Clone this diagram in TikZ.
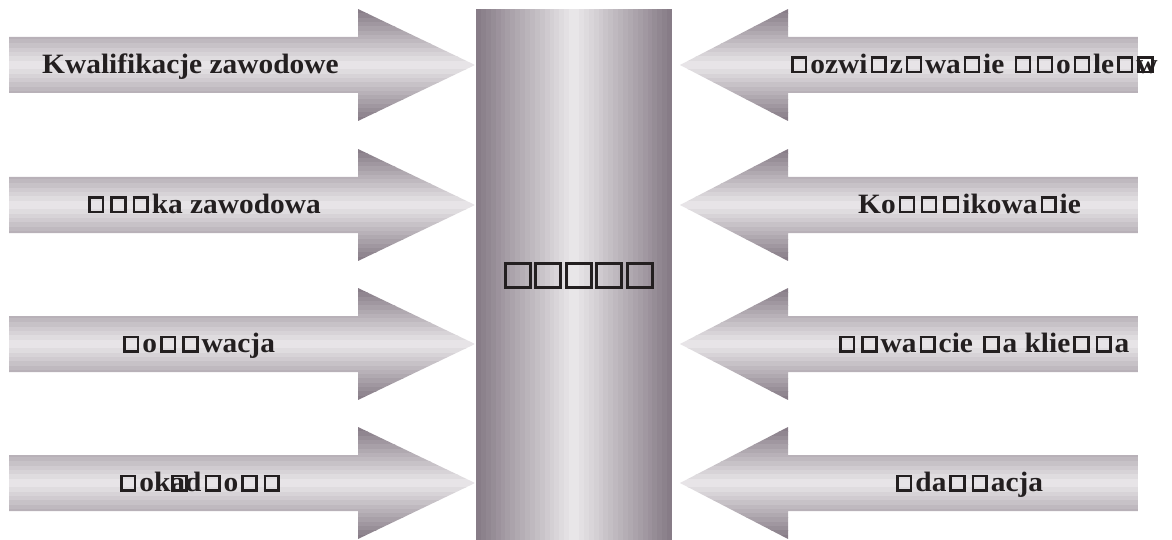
\documentclass[tikz,border=0pt]{standalone}
\usepackage{fontspec}
\setmainfont{Liberation Serif}
\newfontfamily\lblfont[FakeStretch=1.05]{Liberation Serif}
\definecolor{bardark}{HTML}{857A85}
\definecolor{barlight}{HTML}{EBE9EB}
\definecolor{ink}{HTML}{231F20}

% hollow "missing glyph" box, normal advance
\newcommand\gx{\kern3pt\vbox{\hrule height 2.4pt\hbox{\vrule width 2.4pt\vbox to 12.2pt{\vss}\kern11.4pt\vrule width 2.4pt}\hrule height 2.4pt}\kern3pt}
% the same box with no advance (overprinted by the next letter)
\newcommand\gz{\rlap{\kern1pt\vbox{\hrule height 2.4pt\hbox{\vrule width 2.4pt\vbox to 12.2pt{\vss}\kern11.4pt\vrule width 2.4pt}\hrule height 2.4pt}}}
% larger box for the central title
\newcommand\gxbig{\kern1pt\vbox{\hrule height 3pt\hbox{\vrule width 3pt\vbox to 21pt{\vss}\kern22pt\vrule width 3pt}\hrule height 3pt}\kern1.5pt}

% striped arrow pointing right, centred on row y=#1
\newcommand\drawrightarr[1]{%
  \begin{scope}
    \clip (9,#1-28) -- (358,#1-28) -- (358,#1-56) -- (475,#1) -- (358,#1+56)
          -- (358,#1+28) -- (9,#1+28) -- cycle;
    \foreach \i in {0,...,25}{
      \pgfmathtruncatemacro\t{100*(1-abs(\i+0.5-13)/13)}
      \fill[barlight!\t!bardark] (9,#1-56+\i*4.3077) rectangle (475,#1-56+\i*4.3077+4.6);
    }
  \end{scope}}
% striped arrow pointing left, centred on row y=#1
\newcommand\drawleftarr[1]{%
  \begin{scope}
    \clip (1138,#1-28) -- (788,#1-28) -- (788,#1-56) -- (680,#1) -- (788,#1+56)
          -- (788,#1+28) -- (1138,#1+28) -- cycle;
    \foreach \i in {0,...,25}{
      \pgfmathtruncatemacro\t{100*(1-abs(\i+0.5-13)/13)}
      \fill[barlight!\t!bardark] (680,#1-56+\i*4.3077) rectangle (1138,#1-56+\i*4.3077+4.6);
    }
  \end{scope}}

\tikzset{
  lbl/.style={inner sep=0pt, anchor=base west, text=ink,
              font=\lblfont\fontsize{28}{30}\selectfont\bfseries},
  title/.style={inner sep=0pt, anchor=base, text=ink}
}

\begin{document}
\begin{tikzpicture}[x=1pt,y=-1pt]
  \useasboundingbox (0,0) rectangle (1172,540);
  \fill[white] (0,0) rectangle (1172,540);

  % central column with vertical stripes
  \begin{scope}
    \clip (476,9) rectangle (672,540);
    \foreach \i in {0,...,39}{
      \pgfmathtruncatemacro\t{100*(1-abs(\i+0.5-20)/20)}
      \fill[barlight!\t!bardark] (476+\i*4.9,9) rectangle (476+\i*4.9+5.2,540);
    }
  \end{scope}

  % arrows
  \foreach \c in {65,205,344,483}{
    \drawrightarr{\c}
    \drawleftarr{\c}
  }

  % labels on the left
  \node[lbl] (l1) at (42,73.5)  {Kwalifikacje zawodowe};
  \node[lbl] (l2) at (85,213.5) {\gx\gx\gx ka zawodowa};
  \node[lbl] (l3) at (120,352.5) {\gx o\gx\gx wacja};
  \node[lbl] (l4) at (117,491.5) {\gx ok\gz ad\gx o\gx\gx};

  % labels on the right
  \node[lbl] (r1) at (788,73.5)  {\gx ozwi\gx z\gx wa\gx ie \gx\gx o\gx le\gx\gz w};
  \node[lbl] (r2) at (858,213.5) {Ko\gx\gx\gx ikowa\gx ie};
  \node[lbl] (r3) at (836,352.5) {\gx\gx wa\gx cie \gx a klie\gx\gx a};
  \node[lbl] (r4) at (893,491.5) {\gx da\gx\gx acja};

  % central title
  \node[title] (t) at (579,289) {\gxbig\gxbig\gxbig\gxbig\gxbig};
\end{tikzpicture}
\end{document}
